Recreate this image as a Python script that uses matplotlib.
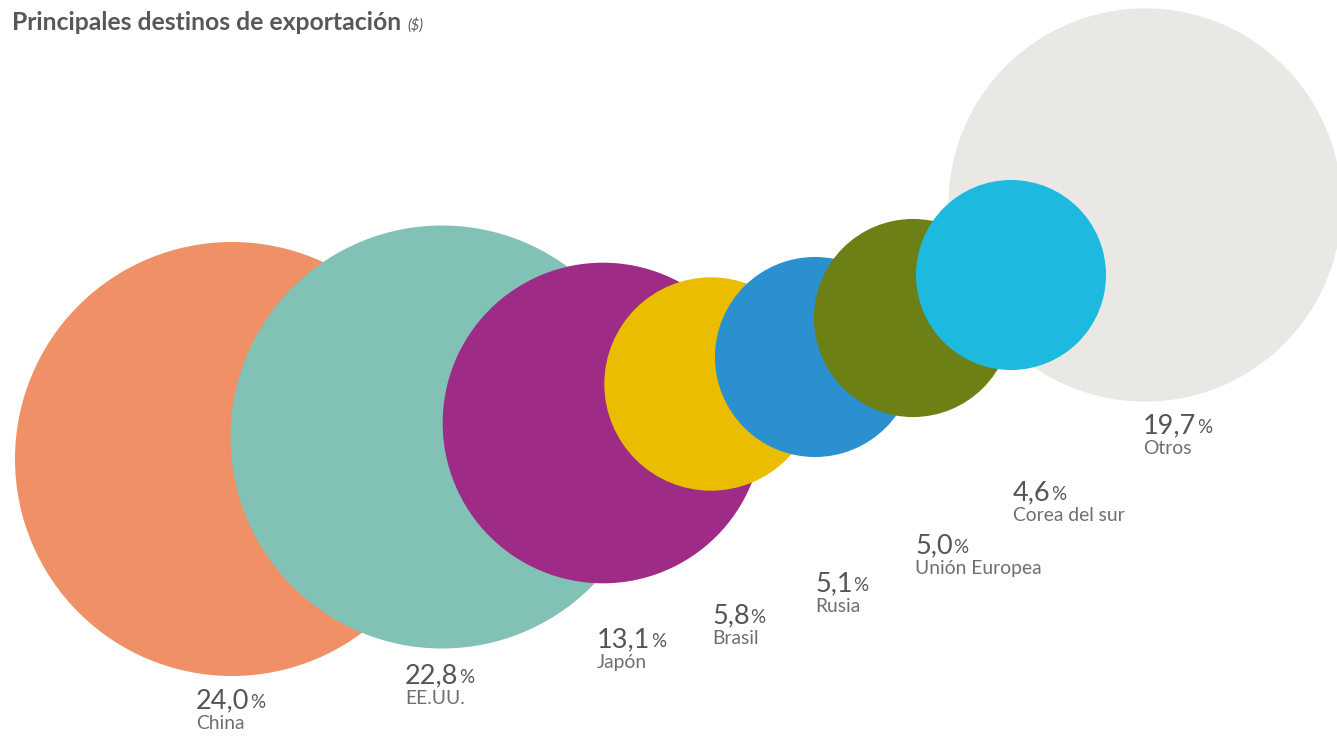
import matplotlib
matplotlib.use("Agg")
import matplotlib.pyplot as plt
from matplotlib.patches import Circle
import numpy as np

plt.rcParams['font.family'] = ['Lato', 'DejaVu Sans']

# Data
categories = ["China", "EE.UU.", "Japón", "Brasil", "Rusia", "Unión Europea", "Corea del sur", "Otros"]
shares = [24.0, 22.8, 13.1, 5.8, 5.1, 5.0, 4.6, 19.7]
value_labels = ["24,0", "22,8", "13,1", "5,8", "5,1", "5,0", "4,6", "19,7"]

# Layout (pixel coordinates)
centers_x = [232, 442, 603, 711, 815, 913, 1011, 1145]
centers_y = [459, 437, 423, 384, 357, 318, 275, 205]
label_x = [196, 405, 597, 712, 815, 915, 1013, 1143]
label_y = [708, 683, 647, 623, 591, 553, 500, 433]
colors = ["#F09066", "#82C1B5", "#9E2B85", "#EABD00", "#2A90D0", "#6C8016", "#1EB9DF", "#EAE8E4"]
scale = 217 / np.sqrt(24.0)

W, H = 1337, 737
fig = plt.figure(figsize=(W / 100, H / 100), dpi=100)
ax = fig.add_axes([0, 0, 1, 1])
ax.set_xlim(0, W)
ax.set_ylim(H, 0)
ax.set_aspect('equal')
ax.axis('off')

# draw order: Otros first, then the rest left to right
order = [7, 0, 1, 2, 3, 4, 5, 6]
for z, i in enumerate(order):
    r = scale * np.sqrt(shares[i])
    ax.add_patch(Circle((centers_x[i], centers_y[i]), r, facecolor=colors[i], edgecolor='none', zorder=z + 1))

num_color = "#55545A"
lab_color = "#6E6E73"
fig.canvas.draw()
renderer = fig.canvas.get_renderer()
for i in range(len(categories)):
    t = ax.text(label_x[i], label_y[i], value_labels[i], fontsize=19.5, color=num_color,
                ha='left', va='baseline', zorder=20)
    bb = t.get_window_extent(renderer=renderer)
    x_end = bb.x1 + 0.5
    xd = ax.transData.inverted().transform((x_end, 0))[0]
    ax.text(xd, label_y[i], "%", fontsize=13.5, color=num_color, ha='left', va='baseline', zorder=20)
    ax.text(label_x[i], label_y[i] + 21, categories[i], fontsize=13.9, color=lab_color,
            ha='left', va='baseline', zorder=20)

tt = fig.text(12 / W, 1 - 30 / H, "Principales destinos de exportación", fontsize=17.8,
              fontweight='bold', color="#58575C", ha='left', va='baseline')
fig.canvas.draw()
bb = tt.get_window_extent(renderer=renderer)
fig.text((bb.x1 + 6) / W, 1 - 30 / H, "($)", fontsize=10.5, style='italic', color="#58575C",
         ha='left', va='baseline')

fig.savefig("out.png", dpi=100)
